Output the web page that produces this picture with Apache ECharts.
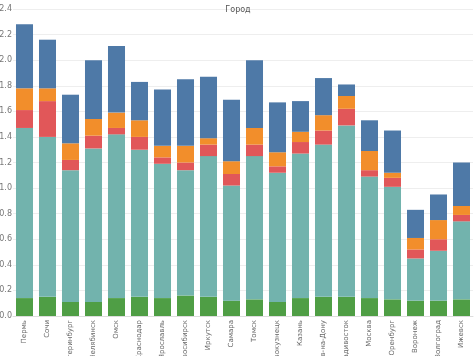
<!DOCTYPE html>
<html>
<head>
<meta charset="utf-8">
<script src="https://cdn.jsdelivr.net/npm/echarts@6/dist/echarts.min.js"></script>
<style>html,body{margin:0;padding:0;background:#fff}#c{width:476px;height:356px}</style>
</head>
<body>
<div id="c"></div>
<script>
const categories = ["Пермь","Сочи","Екатеринбург","Челябинск","Омск","Краснодар","Ярославль","Новосибирск","Иркутск","Самара","Томск","Новокузнецк","Казань","Ростов-на-Дону","Владивосток","Москва","Оренбург","Воронеж","Волгоград","Ижевск"];
const greenVals  = [0.14,0.15,0.11,0.11,0.14,0.15,0.14,0.16,0.15,0.12,0.13,0.11,0.14,0.15,0.15,0.14,0.13,0.12,0.12,0.13];
const tealVals   = [1.33,1.25,1.03,1.20,1.28,1.15,1.05,0.98,1.10,0.90,1.12,1.01,1.13,1.19,1.34,0.95,0.88,0.33,0.39,0.61];
const redVals    = [0.14,0.28,0.08,0.10,0.05,0.10,0.05,0.06,0.09,0.09,0.09,0.05,0.09,0.11,0.13,0.05,0.07,0.07,0.09,0.05];
const orangeVals = [0.17,0.10,0.13,0.13,0.12,0.13,0.09,0.13,0.05,0.10,0.13,0.11,0.08,0.12,0.10,0.15,0.04,0.09,0.15,0.07];
const blueVals   = [0.50,0.38,0.38,0.46,0.52,0.30,0.44,0.52,0.48,0.48,0.53,0.39,0.24,0.29,0.09,0.24,0.33,0.22,0.20,0.34];
const seriesNames = ["Группа 1","Группа 2","Группа 3","Группа 4","Группа 5"];
const titleText = "Город";

const colors = ["#4f9e45","#72b3ad","#e15759","#f28e2b","#4e79a7"];
const data = [greenVals, tealVals, redVals, orangeVals, blueVals];

const chart = echarts.init(document.getElementById('c'), null, {renderer:'canvas'});
chart.setOption({
  animation:false,
  title:{text:titleText,left:'center',top:1,textStyle:{fontSize:8,fontWeight:'normal',color:'#555',fontFamily:'DejaVu Sans'}},
  grid:{left:13,right:3,top:9,bottom:40,containLabel:false,outerBoundsMode:'none'},
  xAxis:{type:'category',data:categories,
    axisLine:{show:true,lineStyle:{color:'#ddd'}},axisTick:{show:false},
    axisLabel:{rotate:90,interval:0,fontSize:7,color:'#666',margin:4,fontFamily:'DejaVu Sans'}},
  yAxis:{type:'value',min:0,max:2.4,interval:0.2,
    axisLine:{show:false},axisTick:{show:false},
    splitLine:{lineStyle:{color:'#eeeeee'}},
    axisLabel:{fontSize:8,color:'#777',margin:1,fontFamily:'DejaVu Sans',formatter:v=>v.toFixed(1)}},
  series: data.map((d,i)=>({name:seriesNames[i],type:'bar',stack:'s',data:d,barCategoryGap:'26%',
    itemStyle:{color:colors[i]}}))
});
</script>
</body>
</html>
